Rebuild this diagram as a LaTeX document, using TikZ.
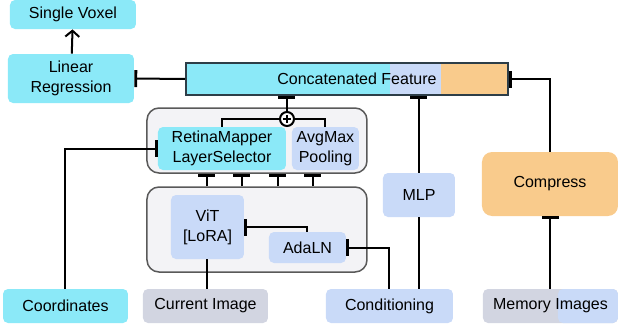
\documentclass[tikz,border=0pt]{standalone}
\usepackage{fontspec}
\setmainfont{Liberation Sans}
\usetikzlibrary{arrows.meta}
\definecolor{featcyan}{RGB}{139,233,248}
\definecolor{featblue}{RGB}{201,218,248}
\definecolor{featgray}{RGB}{210,213,225}
\definecolor{featorange}{RGB}{249,203,140}
\definecolor{panelgray}{RGB}{243,243,246}
\definecolor{edgedark}{RGB}{45,62,72}
\begin{document}
\begin{tikzpicture}[x=0.5pt,y=-0.5pt,font=\fontsize{8}{10}\selectfont,
        box/.style={rounded corners=2.5pt,inner sep=0pt,align=center},
        panel/.style={draw=black!65,line width=0.75pt,fill=panelgray,rounded corners=6pt,inner sep=0pt},
        conn/.style={line width=1pt},
        stop/.style={conn,-{Bar[width=8.5pt,line width=1.4pt]}}]
        \useasboundingbox (0,0) rectangle (618,327);
        %% Output
        \node[box,fill=featcyan,minimum width=63pt,minimum height=14.5pt] (voxel) at (73,14.5) {Single Voxel};
        \node[box,fill=featcyan,minimum width=63pt,minimum height=24.5pt] (linreg) at (71,78.5) {Linear\\Regression};
        %% Concatenated feature
        \fill[featcyan] (186,63) rectangle (390,95);
        \fill[featblue] (390,63) rectangle (441,95);
        \fill[featorange] (441,63) rectangle (508,95);
        \node[draw=edgedark,line width=1pt,minimum width=161pt,minimum height=16pt,inner sep=0pt] (concat) at (347,79) {};
        \node (concattext) at (357,79) {Concatenated Feature};
        %% Panels
        \node[panel,minimum width=110pt,minimum height=32.5pt] (toppanel) at (257,140.5) {};
        \node[panel,minimum width=110pt,minimum height=42.5pt] (botpanel) at (257,229.5) {};
        \node[circle,draw,conn,fill=white,minimum size=7pt,inner sep=0pt,
            path picture={\draw[line width=0.6pt] ([yshift=-1.4pt]path picture bounding box.north) -- ([yshift=1.4pt]path picture bounding box.south)
                ([xshift=1.4pt]path picture bounding box.west) -- ([xshift=-1.4pt]path picture bounding box.east);}] (plus) at (287,119) {};
        \node[box,fill=featcyan,minimum width=64pt,minimum height=21.5pt] (retina) at (222,148.5) {RetinaMapper\\LayerSelector};
        \node[box,fill=featblue,minimum width=33.5pt,minimum height=21.5pt] (avgmax) at (325.5,148.5) {AvgMax\\Pooling};
        \node[box,fill=featblue,minimum width=36.5pt,minimum height=32pt] (vit) at (207.5,227) {ViT\\{[LoRA]}};
        \node[box,fill=featblue,minimum width=38.5pt,minimum height=15.5pt] (adaln) at (307.5,247.5) {AdaLN};
        %% Side branches
        \node[box,fill=featblue,minimum width=36pt,minimum height=22pt] (mlp) at (419,195) {MLP};
        \node[box,fill=featorange,rounded corners=5pt,minimum width=68pt,minimum height=32pt] (compress) at (550,184) {Compress};
        %% Inputs
        \node[box,fill=featcyan,minimum width=62.5pt,minimum height=17pt] (coords) at (65.5,306) {Coordinates};
        \node[box,fill=featgray,minimum width=62.5pt,minimum height=17pt] (current) at (205.5,306) {Current Image};
        \node[box,fill=featblue,minimum width=63.5pt,minimum height=17pt] (cond) at (389.5,306) {Conditioning};
        \node[box,fill=featgray,minimum width=67.5pt,minimum height=17pt,
            path picture={\fill[featblue] ([xshift=3.75pt]path picture bounding box.south) rectangle (path picture bounding box.north east);}] (memory) at (550.5,306) {Memory Images};
        %% Connections
        \draw[conn,-{Straight Barb[length=3pt,width=7pt]}] (linreg) -- (voxel);
        \draw[stop] (concat.west) -- (linreg.east);
        \draw[stop] (plus.north) -- (plus |- concat.south);
        \draw[conn] (plus.west) -| (retina.north);
        \draw[conn] (plus.east) -| (avgmax.north);
        \draw[stop] (coords.north) |- (retina.west);
        \foreach \x in {207,242,278,313}
            \draw[stop] (\x,0 |- botpanel.north) -- (\x,0 |- toppanel.south);
        \draw[stop] (adaln.north) |- (vit.east);
        \draw[stop] (cond.north) |- (adaln.east);
        \draw[conn] (vit.south) -- (vit.south |- current.north);
        \draw[conn] (cond.north -| mlp.south) -- (mlp.south);
        \draw[stop] (mlp.north) -- (mlp.north |- concat.south);
        \draw[stop] (memory.north) -- (memory.north |- compress.south);
        \draw[stop] (compress.north) |- (concat.east);
    \end{tikzpicture}
\end{document}
